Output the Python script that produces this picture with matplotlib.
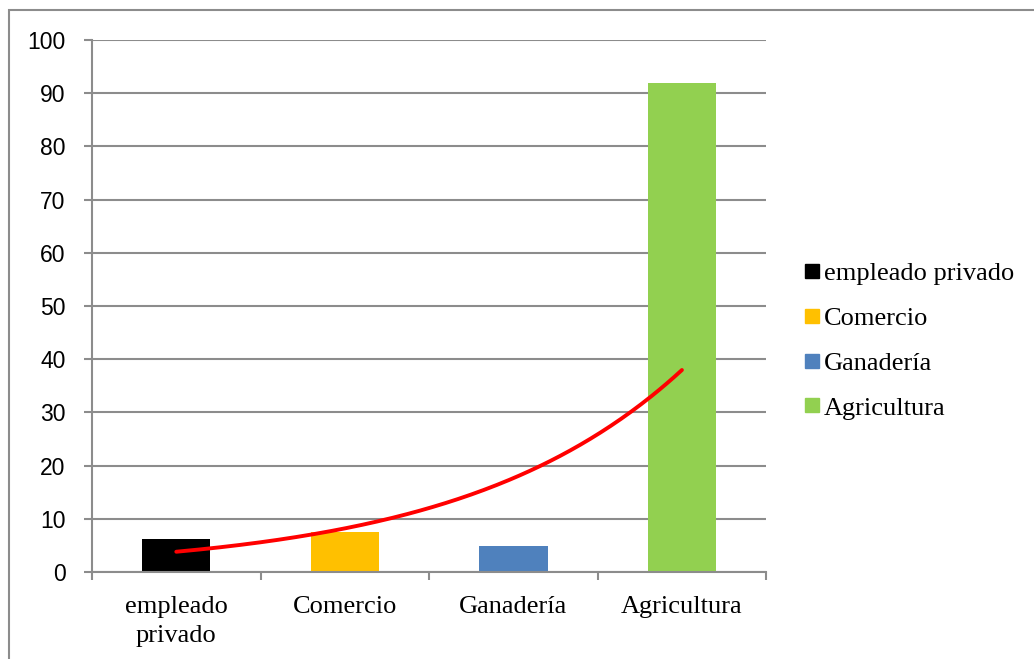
import numpy as np
import matplotlib.pyplot as plt
from matplotlib.lines import Line2D
from matplotlib.patches import Rectangle

categories = ["empleado\nprivado", "Comercio", "Ganadería", "Agricultura"]
legend_labels = ["empleado privado", "Comercio", "Ganadería", "Agricultura"]
values = [6.2, 7.5, 4.9, 91.9]
colors = ["#000000", "#FFC000", "#4F81BD", "#92D050"]

grid_col = "#8c8c8c"
serif = ["Liberation Serif", "DejaVu Serif"]
sans = ["Liberation Sans", "DejaVu Sans"]

fig = plt.figure(figsize=(10.34, 6.59), dpi=100)
ax = fig.add_axes([0.089, 0.132, 0.652, 0.8073])

x = np.arange(1, len(values) + 1)
ax.bar(x, values, width=0.405, color=colors, zorder=2)

# exponential trendline (least squares on log values)
b, lna = np.polyfit(x, np.log(values), 1)
xt = np.linspace(1, 4, 200)
ax.plot(xt, np.exp(lna) * np.exp(b * xt), color="#ff0000", lw=2.8, zorder=3,
        solid_capstyle="round")

ax.set_xlim(0.5, 4.5)
ax.set_ylim(0, 100)
ax.set_yticks(np.arange(0, 101, 10))
ax.yaxis.grid(True, color=grid_col, lw=1.5, zorder=0)
ax.set_axisbelow(True)

ax.set_xticks(x)
ax.set_xticklabels(categories, family=serif, fontsize=19, linespacing=1.45)
ax.tick_params(axis="x", which="major", length=0, pad=17)
ax.set_xticks(np.arange(0.5, 4.6, 1), minor=True)
ax.tick_params(axis="x", which="minor", length=6, width=1.5, color=grid_col)
ax.tick_params(axis="y", length=6, width=1.5, color=grid_col, pad=13)
for lab in ax.get_yticklabels():
    lab.set_family(sans)
    lab.set_fontsize(16.5)

for s in ["top", "right"]:
    ax.spines[s].set_visible(False)
for s in ["left", "bottom"]:
    ax.spines[s].set_color(grid_col)
    ax.spines[s].set_linewidth(1.5)

handles = [Line2D([], [], marker="s", ls="", color=c, markersize=10) for c in colors]
fig.legend(handles, legend_labels, loc="center left", bbox_to_anchor=(0.765, 0.483),
           frameon=False, prop={"family": serif, "size": 19}, handlelength=0.6,
           handletextpad=0.15, labelspacing=0.81, borderpad=0)

# outer chart frame
fig.patches.append(Rectangle((9 / 1034, -0.05), 1.1, 1 - 10 / 659 + 0.05,
                             transform=fig.transFigure, fill=False,
                             edgecolor="#8c8c8c", lw=1.5))

fig.savefig("out.png", dpi=100)
